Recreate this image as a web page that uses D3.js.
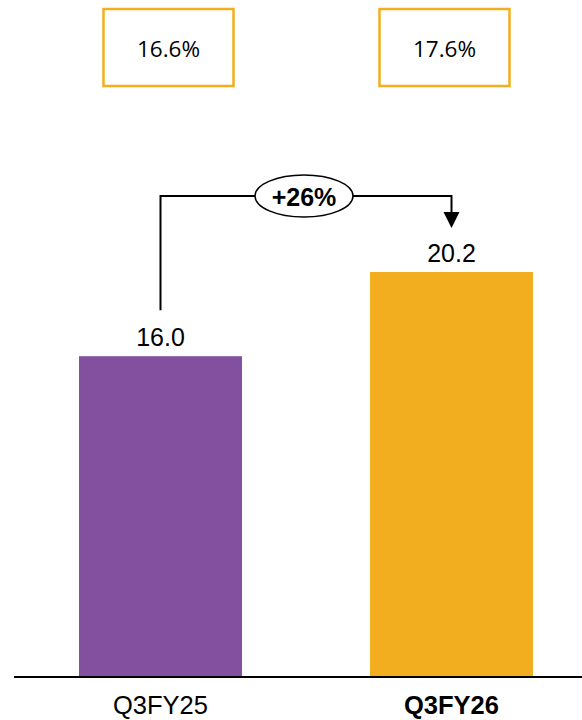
<!DOCTYPE html>
<html>
<head>
<meta charset="utf-8">
<script src="https://cdn.jsdelivr.net/npm/d3@7"></script>
<style>
  html, body { margin: 0; padding: 0; background: #fff; }
  svg { display: block; }
</style>
</head>
<body>
<svg id="chart" width="582" height="720"></svg>
<script>
// Quarterly values
const categories = ["Q3FY25", "Q3FY26"];
const values = [16.0, 20.2];
const valueLabels = ["16.0", "20.2"];
const marginLabels = ["16.6%", "17.6%"];
const growthLabel = "+26%";
const barColors = ["#82509E", "#F2AE1E"];

const svg = d3.select("#chart");
const W = 582;
const baseY = 677;
const sans = "Liberation Sans, Arial, sans-serif";

const x = d3.scaleBand()
  .domain(categories)
  .range([15, 597])
  .paddingInner(0.44)
  .paddingOuter(0.22);

const y = d3.scaleLinear()
  .domain([0, 20.2])
  .range([baseY, 272]);

const mid = d => x(d) + x.bandwidth() / 2;

// Bars
svg.selectAll("rect.bar")
  .data(categories)
  .join("rect")
  .attr("class", "bar")
  .attr("x", d => x(d))
  .attr("y", (d, i) => y(values[i]))
  .attr("width", x.bandwidth())
  .attr("height", (d, i) => baseY - y(values[i]))
  .attr("fill", (d, i) => barColors[i]);

// Value labels
svg.selectAll("text.val")
  .data(categories)
  .join("text")
  .attr("class", "val")
  .attr("x", mid)
  .attr("y", (d, i) => y(values[i]) - 10)
  .attr("text-anchor", "middle")
  .attr("font-family", sans)
  .attr("font-size", 25)
  .attr("fill", "#000")
  .text((d, i) => valueLabels[i]);

// Baseline
svg.append("line")
  .attr("x1", 14).attr("x2", W)
  .attr("y1", baseY).attr("y2", baseY)
  .attr("stroke", "#000").attr("stroke-width", 2);

// Category labels
svg.selectAll("text.cat")
  .data(categories)
  .join("text")
  .attr("class", "cat")
  .attr("x", mid)
  .attr("y", 714)
  .attr("text-anchor", "middle")
  .attr("font-family", sans)
  .attr("font-size", 25.5)
  .attr("font-weight", (d, i) => i === 1 ? "bold" : "normal")
  .attr("fill", "#000")
  .text(d => d);

// Margin boxes along the top
const boxW = 130, boxH = 77, boxTop = 9;
const boxShift = [8, -7];
const boxG = svg.selectAll("g.box")
  .data(categories)
  .join("g")
  .attr("class", "box")
  .attr("transform", (d, i) => `translate(${mid(d) + boxShift[i] - boxW / 2}, ${boxTop})`);
boxG.append("rect")
  .attr("width", boxW).attr("height", boxH)
  .attr("fill", "#fff")
  .attr("stroke", "#F2AE1E").attr("stroke-width", 2.5);
boxG.append("text")
  .attr("x", boxW / 2).attr("y", 48)
  .attr("text-anchor", "middle")
  .attr("font-family", "Open Sans, Liberation Sans, sans-serif")
  .attr("font-size", 22.5)
  .attr("fill", "#000")
  .text((d, i) => marginLabels[i]);

// Growth connector between the two bars
const cx0 = mid(categories[0]);
const cx1 = mid(categories[1]);
const topY = 196;
const tipY = 228;
svg.append("path")
  .attr("d", `M${cx0},${y(values[0]) - 46} V${topY} H${cx1} V${tipY - 14}`)
  .attr("fill", "none")
  .attr("stroke", "#000").attr("stroke-width", 2);
svg.append("path")
  .attr("d", `M${cx1 - 8},${tipY - 16} L${cx1 + 8},${tipY - 16} L${cx1},${tipY} Z`)
  .attr("fill", "#000");

const ellX = 304;
svg.append("ellipse")
  .attr("cx", ellX).attr("cy", topY)
  .attr("rx", 49).attr("ry", 21)
  .attr("fill", "#fff")
  .attr("stroke", "#000").attr("stroke-width", 1.5);
svg.append("text")
  .attr("x", ellX).attr("y", topY + 10)
  .attr("text-anchor", "middle")
  .attr("font-family", sans)
  .attr("font-size", 25)
  .attr("font-weight", "bold")
  .attr("fill", "#000")
  .text(growthLabel);
</script>
</body>
</html>
